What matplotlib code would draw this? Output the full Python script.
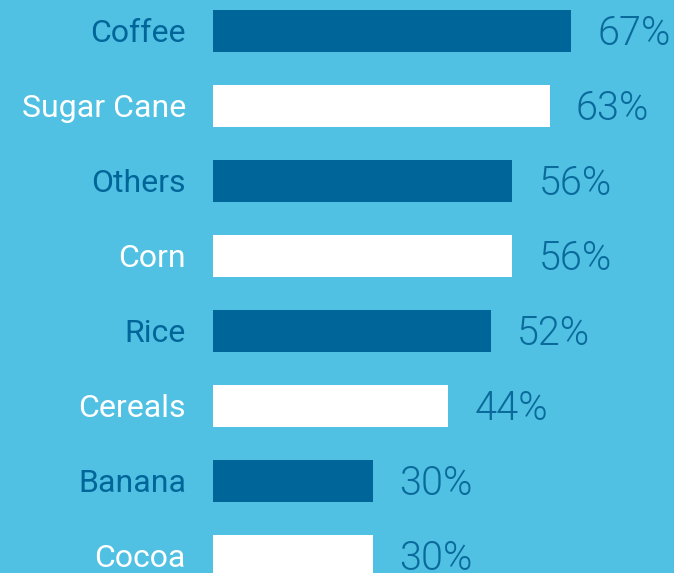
import matplotlib
matplotlib.use("Agg")
import matplotlib.pyplot as plt

categories = ["Coffee", "Sugar Cane", "Others", "Corn", "Rice", "Cereals", "Banana", "Cocoa"]
values = [67, 63, 56, 56, 52, 44, 30, 30]

BG = "#50C1E3"
DARK = "#006699"
LIGHT = "#FFFFFF"
VALUE_COLOR = "#0A6A9C"

W, H, DPI = 674, 573, 100
fig = plt.figure(figsize=(W / DPI, H / DPI), dpi=DPI, facecolor=BG)

# axes spans from the bar origin to the right edge, full height
left_px = 213
ax = fig.add_axes([left_px / W, 0, 1 - left_px / W, 1])
ax.set_facecolor(BG)
px_per_unit = 5.345
ax.set_xlim(0, (W - left_px) / px_per_unit)
row_px = 75
first_center_px = 31
ax.set_ylim((H - first_center_px) / row_px, -first_center_px / row_px)
ax.axis("off")

bar_h = 42 / row_px
colors = [DARK if i % 2 == 0 else LIGHT for i in range(len(categories))]
ax.barh(range(len(categories)), values, height=bar_h, color=colors, clip_on=True)

pt = 72 / DPI
label_fs = 23
value_fs = 28.5
label_cap = 0.711 * label_fs / pt
value_cap = 0.711 * value_fs / pt

for i, (cat, v) in enumerate(zip(categories, values)):
    ax.annotate(cat, xy=(0, i), xycoords=("axes fraction", "data"),
                xytext=(-27 * pt, -label_cap / 2 * pt), textcoords="offset points",
                ha="right", va="baseline", fontsize=label_fs,
                family="Roboto", color=colors[i], annotation_clip=False)
    ax.annotate(f"{v}%", xy=(v, i), xycoords="data",
                xytext=(26 * pt, -value_cap / 2 * pt), textcoords="offset points",
                ha="left", va="baseline", fontsize=value_fs,
                family="Roboto", fontweight=300, color=VALUE_COLOR,
                annotation_clip=False)

fig.savefig("out.png", dpi=DPI, facecolor=BG)
